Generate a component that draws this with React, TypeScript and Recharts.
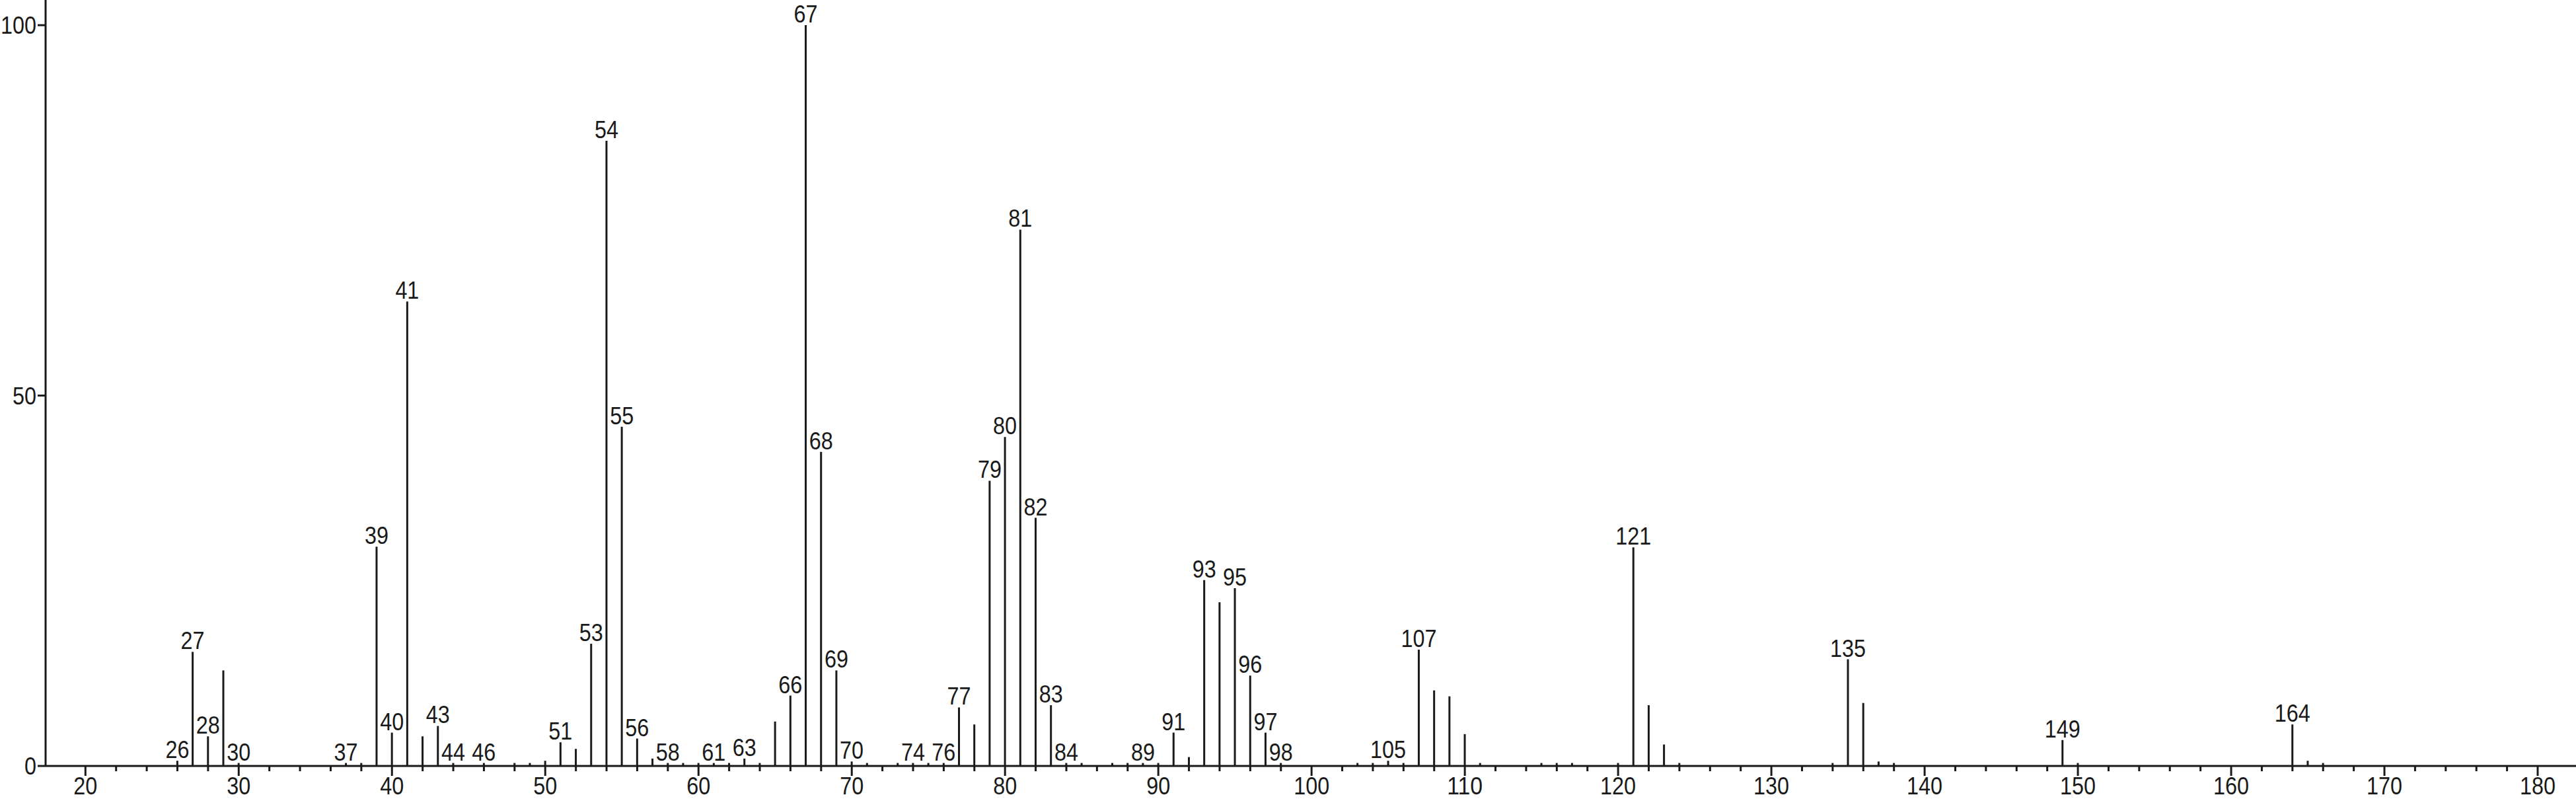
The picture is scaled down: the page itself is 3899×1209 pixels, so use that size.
import React from 'react';
import { BarChart, Bar, XAxis, YAxis, LabelList } from 'recharts';

const mz = [26,27,28,29,30,37,38,39,40,41,42,43,44,46,48,49,50,51,52,53,54,55,56,57,58,59,60,61,62,63,64,65,66,67,68,69,70,71,73,74,75,76,77,78,79,80,81,82,83,84,85,87,88,89,90,91,92,93,94,95,96,97,98,103,104,105,106,107,108,109,110,111,115,116,117,120,121,122,123,124,134,135,136,137,138,149,150,164,165,166];
const intensity = [0.7,15.4,4.0,12.9,0.4,0.4,0.4,29.6,4.5,62.7,4.0,5.4,0.4,0.4,0.4,0.4,0.7,3.2,2.3,16.5,84.4,45.8,3.7,1.0,0.4,0.4,0.4,0.4,0.4,1.0,0.4,6.0,9.5,100,42.4,12.9,0.6,0.4,0.4,0.4,0.4,0.4,7.9,5.6,38.5,44.4,72.4,33.5,8.2,0.4,0.4,0.4,0.4,0.4,0.4,4.5,1.2,25.1,22.1,24.0,12.2,4.5,0.4,0.4,0.4,0.7,0.4,15.7,10.2,9.4,4.3,0.4,0.4,0.4,0.4,0.4,29.5,8.2,2.9,0.4,0.4,14.4,8.5,0.6,0.4,3.5,0.4,5.6,0.7,0.4];
const labeledPeaks = [26,27,28,30,37,39,40,41,43,44,46,51,53,54,55,56,58,61,63,66,67,68,69,70,74,76,77,79,80,81,82,83,84,89,91,93,95,96,97,98,105,107,121,135,149,164];

const xTicks = [20,22,24,26,28,30,32,34,36,38,40,42,44,46,48,50,52,54,56,58,60,62,64,66,68,70,72,74,76,78,80,82,84,86,88,90,92,94,96,98,100,102,104,106,108,110,112,114,116,118,120,122,124,126,128,130,132,134,136,138,140,142,144,146,148,150,152,154,156,158,160,162,164,166,168,170,172,174,176,178,180];
const yTicks = [0, 50, 100];

const data = mz.map((m, i) => ({
  mz: m,
  intensity: intensity[i],
  label: labeledPeaks.includes(m) ? String(m) : '',
}));

const INK = '#1a1a1a';
const FONT = "'Liberation Sans', Arial, sans-serif";
const FS = 37;
const DIGIT_W = 18;

const NarrowText = ({ x, y, anchor, children }: any) => {
  const s = String(children);
  return (
    <text
      x={x}
      y={y}
      textAnchor={anchor}
      fontSize={FS}
      fontFamily={FONT}
      fill={INK}
      textLength={s.length * DIGIT_W}
      lengthAdjust="spacingAndGlyphs"
    >
      {s}
    </text>
  );
};

const XTick = (props: any) => {
  const { x, y, payload } = props;
  const v = payload.value;
  const major = v % 10 === 0;
  return (
    <g>
      <line x1={x} x2={x} y1={y} y2={y + (major ? 15 : 8)} stroke={INK} strokeWidth={3} />
      {major && <NarrowText x={x} y={y + 43} anchor="middle">{v}</NarrowText>}
    </g>
  );
};

const YTick = (props: any) => {
  const { x, y, payload } = props;
  return (
    <g>
      <line x1={x - 12} x2={x} y1={y} y2={y} stroke={INK} strokeWidth={3} />
      <NarrowText x={x - 14} y={y + 13} anchor="end">{payload.value}</NarrowText>
    </g>
  );
};

const PeakLabel = (props: any) => {
  const { x, y, width, value } = props;
  if (!value) return null;
  return <NarrowText x={x + width / 2} y={y - 4} anchor="middle">{value}</NarrowText>;
};

export default function App() {
  return (
    <div style={{ position: 'absolute', left: 0, top: 0, width: 3899, height: 1209, background: '#fff' }}>
      <BarChart
        width={3899}
        height={1209}
        data={data}
        margin={{ top: 0, right: 0, left: 0, bottom: 0 }}
        barCategoryGap={0}
      >
        <XAxis
          dataKey="mz"
          type="number"
          domain={[17.4, 182.5]}
          ticks={xTicks}
          interval={0}
          height={50}
          tickSize={0}
          tickMargin={0}
          tickLine={false}
          axisLine={{ stroke: INK, strokeWidth: 3 }}
          tick={<XTick />}
          allowDataOverflow
        />
        <YAxis
          type="number"
          domain={[0, 103.4]}
          ticks={yTicks}
          interval={0}
          width={69}
          tickSize={0}
          tickMargin={0}
          tickLine={false}
          axisLine={{ stroke: INK, strokeWidth: 3 }}
          tick={<YTick />}
          allowDataOverflow
        />
        <Bar dataKey="intensity" fill={INK} barSize={3} isAnimationActive={false}>
          <LabelList dataKey="label" content={<PeakLabel />} />
        </Bar>
      </BarChart>
    </div>
  );
}
